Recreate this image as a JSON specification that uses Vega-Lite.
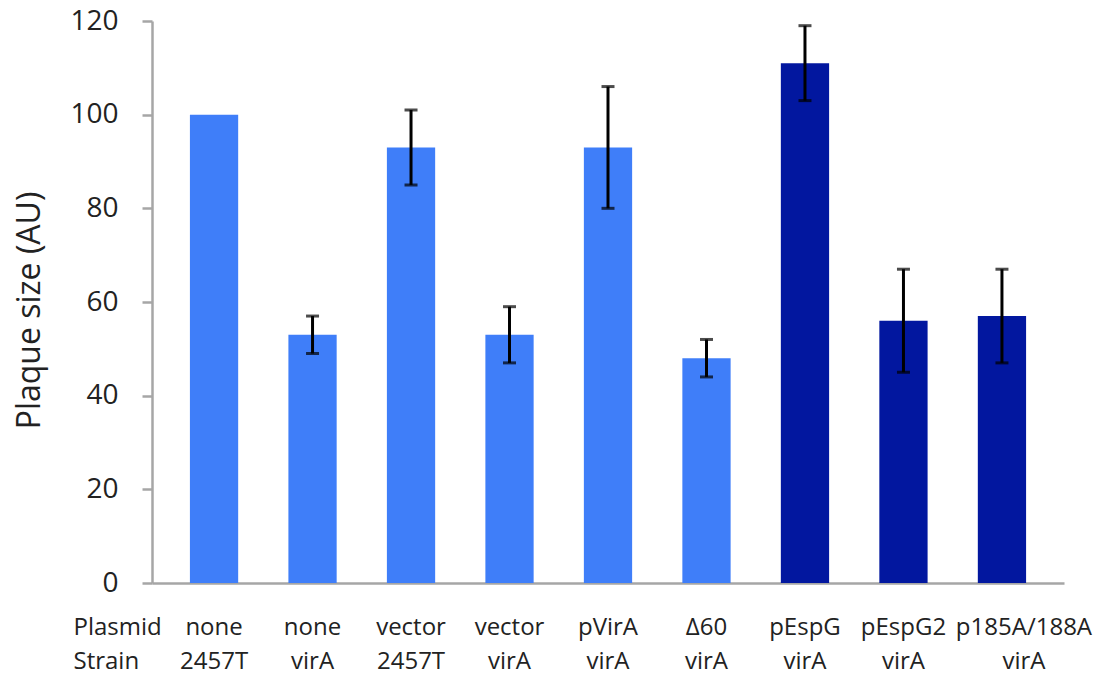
{
  "$schema": "https://vega.github.io/schema/vega-lite/v6.json",
  "autosize": {"type": "none"},
  "padding": {"left": 152, "top": 21, "right": 50, "bottom": 92},
  "width": 912,
  "height": 562,
  "background": "white",
  "config": {"view": {"stroke": null}, "font": "Open Sans"},
  "data": {
    "values": [
      {"label": "none|2457T", "group": "VirA", "mean": 100, "lo": null, "hi": null},
      {"label": "none|virA", "group": "VirA", "mean": 53, "lo": 49, "hi": 57},
      {"label": "vector|2457T", "group": "VirA", "mean": 93, "lo": 85, "hi": 101},
      {"label": "vector|virA", "group": "VirA", "mean": 53, "lo": 47, "hi": 59},
      {"label": "pVirA|virA", "group": "VirA", "mean": 93, "lo": 80, "hi": 106},
      {"label": "Δ60|virA", "group": "VirA", "mean": 48, "lo": 44, "hi": 52},
      {"label": "pEspG|virA", "group": "EspG", "mean": 111, "lo": 103, "hi": 119},
      {"label": "pEspG2|virA", "group": "EspG", "mean": 56, "lo": 45, "hi": 67},
      {"label": "p185A/188A|virA", "group": "EspG", "mean": 57, "lo": 47, "hi": 67}
    ]
  },
  "encoding": {
    "x": {
      "field": "label",
      "type": "nominal",
      "sort": null,
      "scale": {"paddingInner": 0.51, "paddingOuter": 0.385},
      "axis": {
        "title": ["Plasmid", "Strain"],
        "titleX": -79,
        "titleY": 51,
        "titleAlign": "left",
        "titleAnchor": null,
        "titleBaseline": "alphabetic",
        "titleFont": "Open Sans",
        "titleFontSize": 24,
        "titleFontWeight": "normal",
        "titleColor": "#222222",
        "titleLineHeight": 34,
        "labelExpr": "split(datum.label, '|')",
        "labelAngle": 0,
        "labelFont": "Open Sans",
        "labelFontSize": 24,
        "labelColor": "#222222",
        "labelLineHeight": 34,
        "labelBaseline": "alphabetic",
        "labelPadding": 51,
        "labelOverlap": false,
        "labelOffset": {"condition": {"test": "datum.value == 'p185A/188A|virA'", "value": 22}, "value": 0},
        "ticks": false,
        "tickSize": 0,
        "domainColor": "#a6a6a6",
        "domainWidth": 2.5
      }
    }
  },
  "layer": [
    {
      "mark": {"type": "bar"},
      "encoding": {
        "y": {
          "field": "mean",
          "type": "quantitative",
          "scale": {"domain": [0, 120], "nice": false},
          "axis": {
            "title": "Plaque size (AU)",
            "titleFont": "Open Sans",
            "titleFontSize": 32,
            "titleFontWeight": "normal",
            "titleColor": "#222222",
            "titleAngle": -90,
            "titleX": -113,
            "titleY": 289,
            "titleAlign": "center",
            "titleBaseline": "alphabetic",
            "values": [0, 20, 40, 60, 80, 100, 120],
            "labelFont": "Open Sans",
            "labelFontSize": 28,
            "labelColor": "#222222",
            "labelPadding": 24,
            "tickSize": 10,
            "tickColor": "#a6a6a6",
            "tickWidth": 2.5,
            "domainColor": "#a6a6a6",
            "domainWidth": 2.5,
            "grid": false
          }
        },
        "color": {
          "field": "group",
          "type": "nominal",
          "scale": {"domain": ["VirA", "EspG"], "range": ["#3f7ef9", "#02179f"]},
          "legend": null
        }
      }
    },
    {
      "transform": [{"filter": "datum.lo != null"}],
      "mark": {"type": "rule", "color": "#000000", "strokeWidth": 3},
      "encoding": {
        "y": {"field": "lo", "type": "quantitative"},
        "y2": {"field": "hi"}
      }
    },
    {
      "transform": [{"filter": "datum.lo != null"}],
      "mark": {"type": "tick", "color": "#000000", "thickness": 3, "size": 13, "orient": "horizontal"},
      "encoding": {
        "y": {"field": "lo", "type": "quantitative"}
      }
    },
    {
      "transform": [{"filter": "datum.hi != null"}],
      "mark": {"type": "tick", "color": "#000000", "thickness": 3, "size": 13, "orient": "horizontal"},
      "encoding": {
        "y": {"field": "hi", "type": "quantitative"}
      }
    }
  ]
}
